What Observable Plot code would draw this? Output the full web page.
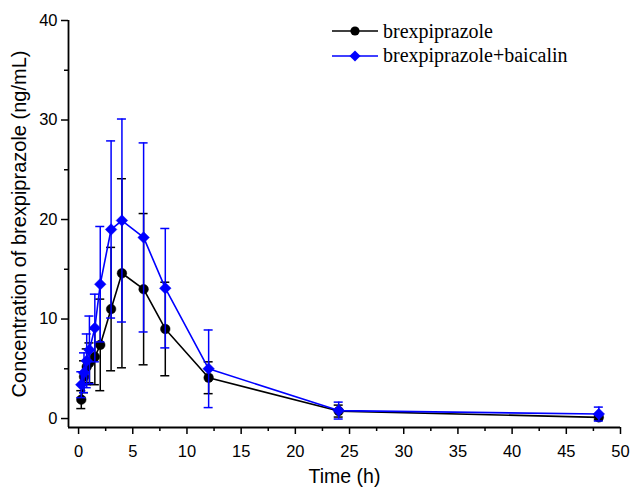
<!DOCTYPE html>
<html>
<head>
<meta charset="utf-8">
<script src="https://cdn.jsdelivr.net/npm/d3@7"></script>
<script src="https://cdn.jsdelivr.net/npm/@observablehq/plot@0.6"></script>
<style>
  html, body { margin: 0; padding: 0; background: #fff; }
  #wrap { position: relative; width: 633px; height: 491px; }
  #legend { position: absolute; left: 330px; top: 19px; font-family: "Liberation Serif", "Times New Roman", serif; font-size: 20px; color: #000; }
  .row { display: flex; align-items: center; height: 24.5px; }
  .row svg { margin-right: 3px; }
</style>
</head>
<body>
<div id="wrap"></div>
<script>
// Data
const times = [0.25, 0.5, 0.75, 1, 1.5, 2, 3, 4, 6, 8, 12, 24, 48];
const brexMean = [1.9, 4.2, 5.2, 5.6, 6.2, 7.4, 11.0, 14.6, 13.0, 9.0, 4.1, 0.75, 0.12];
const brexSD   = [0.9, 1.6, 1.8, 2.0, 2.8, 4.6, 6.2, 9.5, 7.6, 4.7, 1.6, 0.6, 0.25];
const combMean = [3.4, 4.6, 5.8, 6.9, 9.1, 13.5, 19.0, 19.9, 18.2, 13.1, 5.0, 0.8, 0.45];
const combSD   = [1.3, 2.0, 2.7, 3.4, 3.4, 5.8, 8.9, 10.2, 9.5, 6.0, 3.9, 0.85, 0.7];

const seriesNames = ["brexpiprazole", "brexpiprazole+baicalin"];
const seriesColors = ["#000000", "#0000FF"];
const xTicks = [0, 5, 10, 15, 20, 25, 30, 35, 40, 45, 50];
const xMinor = [2.5, 7.5, 12.5, 17.5, 22.5, 27.5, 32.5, 37.5, 42.5, 47.5];
const yTicks = [0, 10, 20, 30, 40];
const yMinor = [5, 15, 25, 35];
const xDomain = [-0.93, 50];
const yDomain = [-0.9, 40];

const brex = times.map((t, i) => ({t, m: brexMean[i], sd: brexSD[i]}));
const comb = times.map((t, i) => ({t, m: combMean[i], sd: combSD[i]}));

function seriesMarks(data, color, symbol, r) {
  return [
    Plot.ruleX(data, {x: "t", y1: d => d.m - d.sd, y2: d => d.m + d.sd, stroke: color, strokeWidth: 1.5}),
    Plot.ruleY(data, {y: d => d.m + d.sd, x1: "t", x2: "t", insetLeft: -4.5, insetRight: -4.5, stroke: color, strokeWidth: 1.5}),
    Plot.ruleY(data, {y: d => d.m - d.sd, x1: "t", x2: "t", insetLeft: -4.5, insetRight: -4.5, stroke: color, strokeWidth: 1.5}),
    Plot.line(data, {x: "t", y: "m", stroke: color, strokeWidth: 1.6}),
    Plot.dot(data, {x: "t", y: "m", fill: color, stroke: color, strokeWidth: 0.5, symbol, r})
  ];
}

const chart = Plot.plot({
  width: 633,
  height: 491,
  marginLeft: 68,
  marginRight: 13,
  marginTop: 20,
  marginBottom: 64,
  style: {fontFamily: "'Liberation Sans', Arial, sans-serif", fontSize: "16px", color: "#000", background: "#fff", overflow: "visible"},
  x: {domain: xDomain},
  y: {domain: yDomain},
  marks: [
    Plot.axisY(yMinor, {tickSize: 4, tickFormat: () => "", label: null, strokeWidth: 1.5}),
    Plot.axisY(yTicks, {tickSize: 7, tickPadding: 4, fontSize: 16.5, strokeWidth: 1.5,
      label: "Concentration of brexpiprazole (ng/mL)", labelAnchor: "center", labelArrow: "none", labelOffset: 57}),
    Plot.axisX(xMinor, {tickSize: 4, tickFormat: () => "", label: null, strokeWidth: 1.5}),
    Plot.axisX(xTicks, {tickSize: 7, tickPadding: 11, fontSize: 16.5, strokeWidth: 1.5,
      label: "Time (h)", labelAnchor: "center", labelArrow: "none", labelOffset: 55}),
    Plot.ruleX([xDomain[0]], {stroke: "#000", strokeWidth: 1.8}),
    Plot.ruleY([yDomain[0]], {stroke: "#000", strokeWidth: 1.8}),
    ...seriesMarks(brex, seriesColors[0], "circle", 4.8),
    ...seriesMarks(comb, seriesColors[1], "diamond2", 5.2)
  ]
});
chart.querySelectorAll("g[aria-label='y-axis label'] text").forEach(t => t.setAttribute("font-size", "20"));
chart.querySelectorAll("g[aria-label='x-axis label'] text").forEach(t => t.setAttribute("font-size", "19.5"));

const wrap = document.getElementById("wrap");
wrap.appendChild(chart);

// Legend
const legend = document.createElement("div");
legend.id = "legend";
seriesNames.forEach((name, i) => {
  const row = document.createElement("div");
  row.className = "row";
  const sw = d3.create("svg").attr("width", 50).attr("height", 14);
  sw.append("line").attr("x1", 2).attr("x2", 48).attr("y1", 7).attr("y2", 7)
    .attr("stroke", seriesColors[i]).attr("stroke-width", 1.6);
  if (i === 0) sw.append("circle").attr("cx", 25).attr("cy", 7).attr("r", 4.6).attr("fill", seriesColors[i]);
  else sw.append("path").attr("d", d3.symbol(d3.symbolDiamond2, Math.PI * 25)()).attr("transform", "translate(25,7)").attr("fill", seriesColors[i]);
  row.appendChild(sw.node());
  const span = document.createElement("span");
  span.textContent = name;
  row.appendChild(span);
  legend.appendChild(row);
});
wrap.appendChild(legend);
</script>
</body>
</html>
